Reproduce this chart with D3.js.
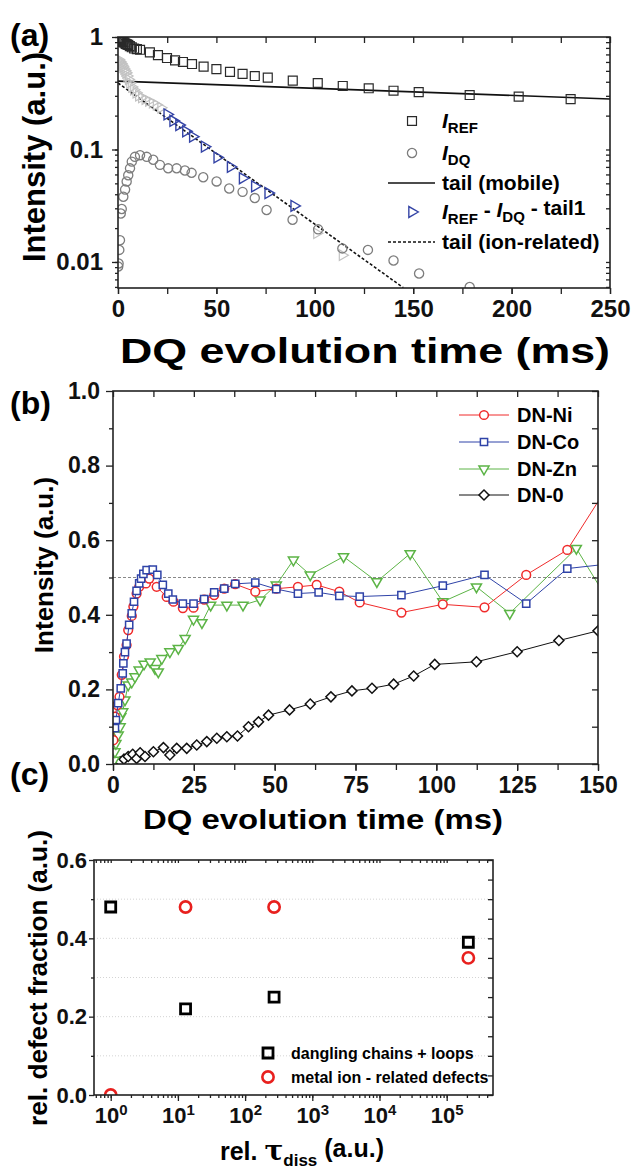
<!DOCTYPE html>
<html>
<head>
<meta charset="utf-8">
<script src="https://cdn.jsdelivr.net/npm/d3@7"></script>
<style>
body { margin: 0; background: #fff; }
svg { display: block; font-family: "Liberation Sans", Arial, sans-serif; font-weight: bold; }
</style>
</head>
<body>
<svg id="chart" width="634" height="1170"></svg>
<script>

// ---------- panel (a): reference / DQ intensities (log scale) ----------
var refT = [0.2,0.5,0.8,1.1,1.5,1.9,2.3,2.8,3.3,3.9,4.5,5.2,6.0,7.0,8.2,9.6,11.2,16.2,20.3,24.9,29,33,37.6,43.5,50,56.9,63.3,69.5,76.1,88.8,101.5,114.2,127.4,140,152.8,178.7,203.6,230];
var refI = [0.98,0.96,0.95,0.94,0.93,0.92,0.91,0.90,0.89,0.87,0.86,0.85,0.83,0.81,0.79,0.78,0.77,0.73,0.69,0.65,0.62,0.60,0.575,0.545,0.518,0.49,0.47,0.45,0.435,0.41,0.39,0.367,0.35,0.333,0.324,0.305,0.295,0.28];

var dqT = [0.1,0.3,0.66,1.0,1.4,1.9,2.7,3.6,4.4,5.2,6.1,7.0,8.6,11.2,14.6,17.9,21.3,25.5,29.8,34,37.4,43.3,50.1,56.5,63.3,69.5,75.5,88.7,101.7,114,127,140,153,178.7];
var dqI = [0.0091,0.0097,0.0128,0.0156,0.027,0.0296,0.038,0.044,0.052,0.059,0.068,0.078,0.086,0.089,0.086,0.081,0.073,0.068,0.068,0.065,0.062,0.0567,0.052,0.045,0.042,0.037,0.029,0.0237,0.0195,0.0132,0.0128,0.0103,0.0079,0.006];

// I_REF - I_DQ - tail1 (blue part)
var diffT = [25,28,31,34.5,38,44,50.4,57.2,63.3,69.5,76.3,89.5];
var diffI = [0.205,0.18,0.165,0.145,0.13,0.106,0.085,0.07,0.0555,0.047,0.041,0.0315];
// same quantity, points drawn in light grey
var diffGreyT = [0.3,0.7,1.1,1.5,2,2.5,3,3.5,4,4.6,5.3,6,7,8,9.2,10.5,12,13.8,15.6,17.5,19.5,21.8,101,114];
var diffGreyI = [0.63,0.61,0.6,0.58,0.56,0.54,0.52,0.5,0.48,0.45,0.42,0.39,0.36,0.34,0.32,0.3,0.29,0.28,0.27,0.26,0.25,0.235,0.018,0.0115];

var tailMobileT = [0, 250], tailMobileI = [0.405, 0.281];
var tailIonT = [0, 145], tailIonI = [0.39, 0.0059];

// ---------- panel (b): normalised DQ build-up ----------
var niT = [0.1,0.6,1.3,2.0,2.7,3.4,4.2,4.7,5.8,6.3,7.3,8.1,10.2,11.2,13.5,16.6,18.7,21.6,24.9,28.2,31.3,34.4,37.8,44,50.5,57.2,63,70,76.3,89.2,102,114.9,127.8,140.5,153];
var niV = [0.064,0.127,0.158,0.18,0.239,0.288,0.319,0.359,0.397,0.422,0.457,0.475,0.484,0.497,0.475,0.448,0.435,0.418,0.419,0.441,0.453,0.47,0.482,0.462,0.47,0.475,0.48,0.462,0.433,0.406,0.428,0.42,0.507,0.574,0.744];

var coT = [0.6,0.9,1.6,2.4,3.0,3.2,3.7,4.2,5.0,5.8,6.5,7.3,8.1,8.7,9.4,10.4,12.3,13.7,15.4,17.1,18.5,21.6,24.9,28.2,31.3,34.4,37.8,44,50.5,57.2,63.6,70,76.3,89.2,102,114.9,127.8,140.5,153];
var coV = [0.096,0.118,0.163,0.203,0.243,0.27,0.30,0.323,0.373,0.404,0.435,0.464,0.484,0.497,0.51,0.52,0.521,0.507,0.48,0.457,0.441,0.43,0.43,0.442,0.46,0.47,0.483,0.486,0.469,0.457,0.46,0.451,0.449,0.453,0.478,0.507,0.43,0.524,0.536];

var znT = [0.3,0.6,0.9,1.6,2.2,2.4,3.0,3.7,4.7,5.8,6.8,8.1,9.6,11.5,13,14,15.1,17.6,20.2,22.3,24.9,27.5,30.2,35.2,40.2,45.5,50.5,55.8,61,71.3,81.6,91.9,102,112.4,122.7,143.3,153];
var znV = [0.01,0.033,0.055,0.078,0.1,0.127,0.14,0.172,0.212,0.22,0.234,0.252,0.268,0.274,0.256,0.247,0.283,0.301,0.31,0.337,0.388,0.379,0.426,0.426,0.426,0.44,0.48,0.547,0.507,0.556,0.489,0.564,0.435,0.475,0.404,0.578,0.44];

var dn0T = [1.2,2.2,3.4,4.7,6.1,7.3,8.4,9.9,12.5,15.6,17.6,19.7,22.8,25.9,29,32.1,35.2,38.5,41.9,45,48.1,54.6,61,67.4,73.9,80.1,86.8,93,99.5,112.4,125,137.9,150];
var dn0V = [0.002,0.006,0.013,0.02,0.026,0.015,0.03,0.02,0.033,0.044,0.024,0.042,0.042,0.051,0.06,0.069,0.073,0.075,0.1,0.113,0.131,0.145,0.161,0.18,0.196,0.203,0.214,0.236,0.267,0.274,0.301,0.331,0.357];

var plateau = 0.5;

// ---------- panel (c): defect fractions vs relative dissociation time ----------
var tauRel = [1, 13, 270, 2.1e5];
var danglingFrac = [0.48, 0.22, 0.25, 0.39];
var metalIonFrac = [0.0, 0.48, 0.48, 0.35];

var svg = d3.select("#chart");
var ink = "#222";

// common axis helper: strips the domain, styles ticks and labels
function drawAxis(axisFn, scale, transform, values, size, fmt, fs, pad) {
  var ax = axisFn(scale).tickValues(values).tickSize(size).tickSizeOuter(0)
    .tickPadding(pad == null ? 3 : pad)
    .tickFormat(fmt || function() { return ""; });
  var g = svg.append("g").attr("transform", transform).call(ax);
  g.select(".domain").remove();
  g.attr("font-family", null).attr("font-size", null);
  g.selectAll(".tick line").attr("stroke", ink).attr("stroke-width", 1.3);
  g.selectAll(".tick text").attr("fill", "#111").style("font-size", (fs || 20) + "px");
  return g;
}

function frame(x, y) {
  svg.append("rect")
    .attr("x", x.range()[0]).attr("y", y.range()[1])
    .attr("width", x.range()[1] - x.range()[0])
    .attr("height", y.range()[0] - y.range()[1])
    .attr("fill", "none").attr("stroke", ink).attr("stroke-width", 1.6);
}

function clip(id, x, y) {
  svg.append("clipPath").attr("id", id).append("rect")
    .attr("x", x.range()[0]).attr("y", y.range()[1])
    .attr("width", x.range()[1] - x.range()[0])
    .attr("height", y.range()[0] - y.range()[1]);
  return svg.append("g").attr("clip-path", "url(#" + id + ")");
}

function markers(g, xs, ys, x, y, type, size, stroke, sw, fill, rot) {
  g.append("g").selectAll("path").data(d3.range(xs.length)).join("path")
    .attr("transform", function(i) { return "translate(" + x(xs[i]) + "," + y(ys[i]) + ") rotate(" + (rot || 0) + ")"; })
    .attr("d", d3.symbol(type, size))
    .attr("fill", fill || "none")
    .attr("stroke", stroke).attr("stroke-width", sw);
}

function line(g, xs, ys, x, y, stroke, sw, dash) {
  g.append("path")
    .datum(d3.range(xs.length))
    .attr("d", d3.line().x(function(i) { return x(xs[i]); }).y(function(i) { return y(ys[i]); }))
    .attr("fill", "none").attr("stroke", stroke).attr("stroke-width", sw)
    .attr("stroke-dasharray", dash || null);
}

// log minor tick positions between the domain ends
function logTicks(domain) {
  var out = [];
  for (var e = Math.floor(Math.log10(domain[0])); e <= Math.ceil(Math.log10(domain[1])); e++) {
    for (var m = 1; m < 10; m++) {
      var v = m * Math.pow(10, e);
      if (v >= domain[0] && v <= domain[1]) out.push(v);
    }
  }
  return out;
}

// sub/superscript text builder
function rich(sel, parts, baseSize, subSize) {
  parts.forEach(function(p, k) {
    var t = sel.append("tspan").text(p.t);
    if (p.it) t.style("font-style", "italic");
    if (p.sub) t.attr("dy", "0.3em").style("font-size", subSize + "px");
    else if (k > 0 && parts[k - 1].sub) t.attr("dy", "-0.3em");
  });
}

/* ===================== (a) ===================== */
var xa = d3.scaleLinear().domain([0, 250]).range([118, 610]);
var ya = d3.scaleLog().domain([0.00587, 1]).range([288, 37]);

var ga = clip("clipA", xa, ya);
line(ga, tailMobileT, tailMobileI, xa, ya, "#111", 1.6);
line(ga, tailIonT, tailIonI, xa, ya, "#111", 1.6, "3,2");
markers(ga, diffGreyT, diffGreyI, xa, ya, d3.symbolTriangle, 48, "#c2c2c2", 1.2, "none", 90);
markers(ga, refT, refI, xa, ya, d3.symbolSquare, 80, "#2a2a2a", 1.2);
markers(ga, dqT, dqI, xa, ya, d3.symbolCircle, 66, "#7d7d7d", 1.3);
markers(ga, diffT, diffI, xa, ya, d3.symbolTriangle, 52, "#3444a6", 1.4, "none", 90);
frame(xa, ya);

var minorA = logTicks(ya.domain());
drawAxis(d3.axisLeft, ya, "translate(118,0)", minorA, 3);
drawAxis(d3.axisLeft, ya, "translate(118,0)", [0.01, 0.1, 1], 6, function(d) { return d >= 1 ? "1" : String(d); }, 24, 9);
drawAxis(d3.axisLeft, ya, "translate(610,0)", minorA, 4);
drawAxis(d3.axisBottom, xa, "translate(0,288)", d3.range(0, 251, 25), 6);
drawAxis(d3.axisBottom, xa, "translate(0,288)", d3.range(0, 251, 50), 6, function(d) { return d; }, 24, 6);
drawAxis(d3.axisBottom, xa, "translate(0,37)", d3.range(0, 251, 25), 6);

svg.append("text").attr("x", 10).attr("y", 46).style("font-size", "32px").text("(a)");
svg.append("text").attr("transform", "translate(45,157) rotate(-90)").attr("text-anchor", "middle")
  .style("font-size", "31px").text("Intensity (a.u.)");
svg.append("text").attr("x", 365).attr("y", 363).attr("text-anchor", "middle")
  .attr("textLength", 490).attr("lengthAdjust", "spacingAndGlyphs")
  .style("font-size", "35px").text("DQ evolution time (ms)");

// legend (a)
var legA = [
  { y: 121, kind: "sq", parts: [{ t: "I", it: true }, { t: "REF", sub: true }] },
  { y: 153, kind: "ci", parts: [{ t: "I", it: true }, { t: "DQ", sub: true }] },
  { y: 183, kind: "solid", parts: [{ t: "tail (mobile)" }] },
  { y: 212, kind: "tri", parts: [{ t: "I", it: true }, { t: "REF", sub: true }, { t: " - " }, { t: "I", it: true }, { t: "DQ", sub: true }, { t: " - tail1" }] },
  { y: 242, kind: "dash", parts: [{ t: "tail (ion-related)" }] }
];
legA.forEach(function(r) {
  if (r.kind === "sq") svg.append("path").attr("transform", "translate(412," + r.y + ")").attr("d", d3.symbol(d3.symbolSquare, 80)).attr("fill", "none").attr("stroke", "#2a2a2a").attr("stroke-width", 1.2);
  if (r.kind === "ci") svg.append("path").attr("transform", "translate(412," + r.y + ")").attr("d", d3.symbol(d3.symbolCircle, 66)).attr("fill", "none").attr("stroke", "#7d7d7d").attr("stroke-width", 1.3);
  if (r.kind === "tri") svg.append("path").attr("transform", "translate(412," + r.y + ") rotate(90)").attr("d", d3.symbol(d3.symbolTriangle, 52)).attr("fill", "none").attr("stroke", "#3444a6").attr("stroke-width", 1.4);
  if (r.kind === "solid" || r.kind === "dash") svg.append("line").attr("x1", 388).attr("x2", 435).attr("y1", r.y).attr("y2", r.y)
    .attr("stroke", "#111").attr("stroke-width", 1.6).attr("stroke-dasharray", r.kind === "dash" ? "3,2" : null);
  var t = svg.append("text").attr("x", 442).attr("y", r.y + 7).style("font-size", "21px");
  rich(t, r.parts, 21, 15);
});

/* ===================== (b) ===================== */
var xb = d3.scaleLinear().domain([0, 150]).range([113, 598]);
var yb = d3.scaleLinear().domain([0, 1]).range([764, 391]);

var gb = clip("clipB", xb, yb);
gb.append("line").attr("x1", xb(0)).attr("x2", xb(150)).attr("y1", yb(plateau)).attr("y2", yb(plateau))
  .attr("stroke", "#888").attr("stroke-width", 1).attr("stroke-dasharray", "3,2");

var seriesB = [
  { t: dn0T, v: dn0V, c: "#111", type: d3.symbolSquare, size: 50, rot: 45, name: "DN-0" },
  { t: znT, v: znV, c: "#5cb446", type: d3.symbolTriangle, size: 44, rot: 180, name: "DN-Zn" },
  { t: niT, v: niV, c: "#f02a2a", type: d3.symbolCircle, size: 60, rot: 0, name: "DN-Ni" },
  { t: coT, v: coV, c: "#2f43a8", type: d3.symbolSquare, size: 52, rot: 0, name: "DN-Co" }
];
seriesB.forEach(function(s) {
  line(gb, s.t, s.v, xb, yb, s.c, 1);
  markers(gb, s.t, s.v, xb, yb, s.type, s.size, s.c, 1.5, "#fff", s.rot);
});
frame(xb, yb);

drawAxis(d3.axisLeft, yb, "translate(113,0)", d3.range(0.1, 1, 0.2), 4);
drawAxis(d3.axisLeft, yb, "translate(113,0)", [0, 0.2, 0.4, 0.6, 0.8, 1.0], 7, d3.format(".1f"), 23, 6);
drawAxis(d3.axisLeft, yb, "translate(598,0)", d3.range(0, 1.01, 0.1), 6);
drawAxis(d3.axisBottom, xb, "translate(0,764)", d3.range(0, 151, 12.5), 6);
drawAxis(d3.axisBottom, xb, "translate(0,764)", d3.range(0, 151, 25), 7, function(d) { return d; }, 23, 6);
drawAxis(d3.axisBottom, xb, "translate(0,391)", d3.range(0, 151, 12.5), 6);

svg.append("text").attr("x", 10).attr("y", 414).style("font-size", "32px").text("(b)");
svg.append("text").attr("transform", "translate(53,565) rotate(-90)").attr("text-anchor", "middle")
  .style("font-size", "26px").text("Intensity (a.u.)");
svg.append("text").attr("x", 323).attr("y", 829).attr("text-anchor", "middle")
  .attr("textLength", 360).attr("lengthAdjust", "spacingAndGlyphs")
  .style("font-size", "27px").text("DQ evolution time (ms)");

// legend (b)
var legB = ["DN-Ni", "DN-Co", "DN-Zn", "DN-0"];
var legBy = [415, 442, 469, 495];
legB.forEach(function(name, k) {
  var s = seriesB.filter(function(d) { return d.name === name; })[0];
  svg.append("line").attr("x1", 459).attr("x2", 509).attr("y1", legBy[k]).attr("y2", legBy[k]).attr("stroke", s.c).attr("stroke-width", 1);
  svg.append("path").attr("transform", "translate(484," + legBy[k] + ") rotate(" + s.rot + ")")
    .attr("d", d3.symbol(s.type, s.size)).attr("fill", "#fff").attr("stroke", s.c).attr("stroke-width", 1.5);
  svg.append("text").attr("x", 517).attr("y", legBy[k] + 7).style("font-size", "20px").text(name);
});

/* ===================== (c) ===================== */
var xc = d3.scaleLog().domain([0.564, 4.89e5]).range([94, 493]);
var yc = d3.scaleLinear().domain([0, 0.6]).range([1095, 860]);

svg.append("g").selectAll("line").data([0.1, 0.2, 0.3, 0.4, 0.5]).join("line")
  .attr("x1", xc.range()[0]).attr("x2", xc.range()[1])
  .attr("y1", function(d) { return yc(d); }).attr("y2", function(d) { return yc(d); })
  .attr("stroke", "#d4d4d4").attr("stroke-width", 1).attr("stroke-dasharray", "1,2");

var gc = clip("clipC", xc, yc);
markers(gc, tauRel, danglingFrac, xc, yc, d3.symbolSquare, 100, "#000", 2.8);
markers(gc, tauRel, metalIonFrac, xc, yc, d3.symbolCircle, 100, "#e8201e", 2.6);
frame(xc, yc);

var minorC = logTicks(xc.domain());
var decC = [1, 10, 100, 1e3, 1e4, 1e5];
drawAxis(d3.axisLeft, yc, "translate(94,0)", [0.1, 0.3, 0.5], 3);
drawAxis(d3.axisLeft, yc, "translate(94,0)", [0, 0.2, 0.4, 0.6], 5, d3.format(".1f"), 22, 2);
drawAxis(d3.axisLeft, yc, "translate(493,0)", d3.range(0, 0.601, 0.05), 5);
drawAxis(d3.axisBottom, xc, "translate(0,1095)", minorC, 3);
var bx = drawAxis(d3.axisBottom, xc, "translate(0,1095)", decC, 6, function(d) { return d; }, 22, 6);
bx.selectAll(".tick text").each(function(d) {
  var t = d3.select(this);
  t.text("");
  t.append("tspan").text("10");
  t.append("tspan").attr("dy", "-0.5em").style("font-size", "15px").text(Math.round(Math.log10(d)));
});
drawAxis(d3.axisBottom, xc, "translate(0,860)", minorC, 3);

svg.append("text").attr("x", 10).attr("y", 785).style("font-size", "32px").text("(c)");
svg.append("text").attr("transform", "translate(47,978) rotate(-90)").attr("text-anchor", "middle")
  .attr("textLength", 296).attr("lengthAdjust", "spacingAndGlyphs")
  .style("font-size", "25px").text("rel. defect fraction (a.u.)");
var xt = svg.append("text").attr("x", 302).attr("y", 1160).attr("text-anchor", "middle").style("font-size", "25px");
xt.append("tspan").text("rel. ");
xt.append("tspan").style("font-family", "'DejaVu Serif', serif").style("font-size", "28px").text("τ");
xt.append("tspan").attr("dy", "0.35em").style("font-size", "17px").text("diss");
xt.append("tspan").attr("dy", "-0.35em").text(" (a.u.)");

// legend (c)
svg.append("path").attr("transform", "translate(268,1053)").attr("d", d3.symbol(d3.symbolSquare, 100))
  .attr("fill", "none").attr("stroke", "#000").attr("stroke-width", 2.8);
svg.append("path").attr("transform", "translate(268,1077)").attr("d", d3.symbol(d3.symbolCircle, 100))
  .attr("fill", "none").attr("stroke", "#e8201e").attr("stroke-width", 2.6);
svg.append("text").attr("x", 291).attr("y", 1059).style("font-size", "16px").text("dangling chains + loops");
svg.append("text").attr("x", 291).attr("y", 1083).style("font-size", "16px").text("metal ion - related defects");

</script>
</body>
</html>
